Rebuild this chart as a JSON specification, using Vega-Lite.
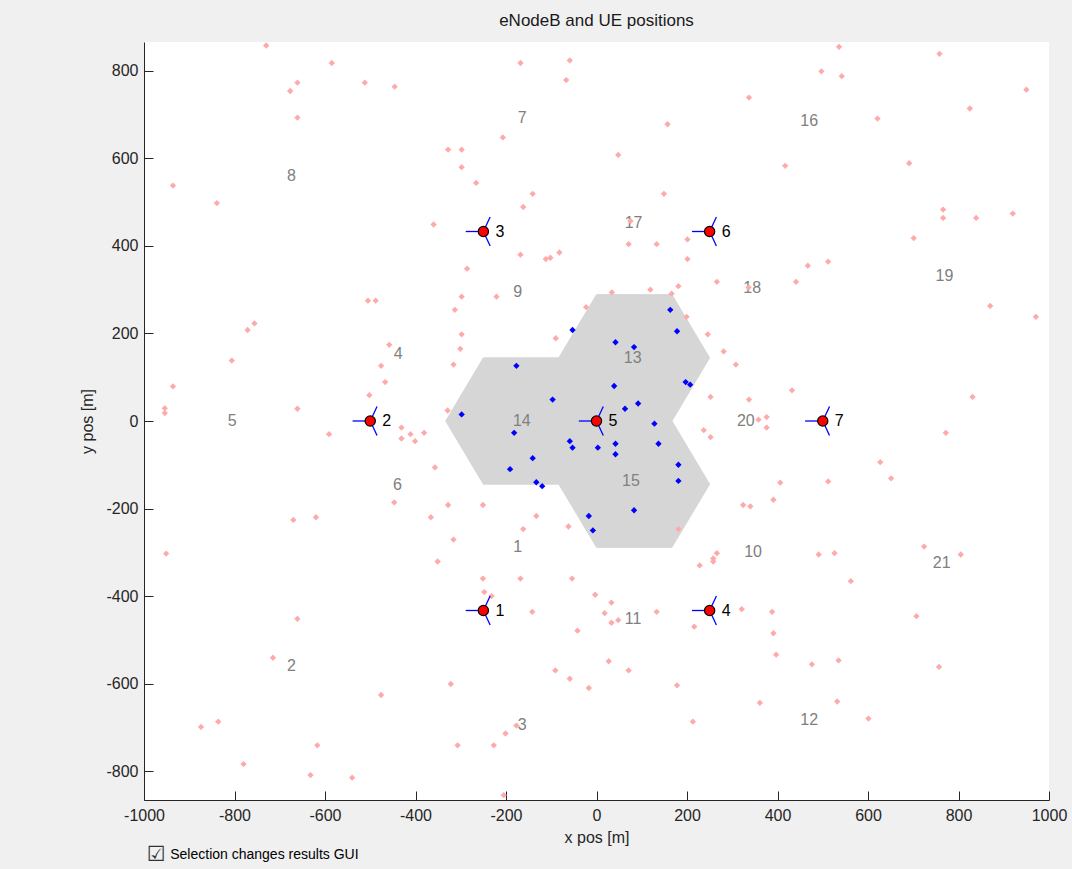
{
  "$schema": "https://vega.github.io/schema/vega-lite/v6.json",
  "width": 905,
  "height": 758,
  "autosize": {"type": "none"},
  "padding": {"left": 144, "top": 42, "right": 23, "bottom": 69},
  "background": "#f0f0f0",
  "view": {"fill": "white", "stroke": null},
  "title": {"text": "eNodeB and UE positions", "fontSize": 17, "fontWeight": "normal", "font": "Liberation Sans", "color": "#1a1a1a", "offset": 12, "anchor": "middle"},
  "datasets": {
    "roi": [
      {"i": 0, "x": 166.7, "y": 288.7},
      {"i": 1, "x": 250, "y": 144.3},
      {"i": 2, "x": 166.7, "y": 0},
      {"i": 3, "x": 250, "y": -144.3},
      {"i": 4, "x": 166.7, "y": -288.7},
      {"i": 5, "x": 0, "y": -288.7},
      {"i": 6, "x": -83.3, "y": -144.3},
      {"i": 7, "x": -250, "y": -144.3},
      {"i": 8, "x": -333.3, "y": 0},
      {"i": 9, "x": -250, "y": 144.3},
      {"i": 10, "x": -83.3, "y": 144.3},
      {"i": 11, "x": 0, "y": 288.7}
    ],
    "cells": [
      {"cell": "1", "x": -174, "y": -289},
      {"cell": "2", "x": -674, "y": -559},
      {"cell": "3", "x": -164, "y": -694},
      {"cell": "4", "x": -438, "y": 154},
      {"cell": "5", "x": -805, "y": 1},
      {"cell": "6", "x": -440, "y": -147},
      {"cell": "7", "x": -164, "y": 693},
      {"cell": "8", "x": -674, "y": 560},
      {"cell": "9", "x": -174, "y": 294},
      {"cell": "10", "x": 346, "y": -299},
      {"cell": "11", "x": 81, "y": -452},
      {"cell": "12", "x": 470, "y": -683},
      {"cell": "13", "x": 80, "y": 144},
      {"cell": "14", "x": -165, "y": 0},
      {"cell": "15", "x": 76, "y": -137},
      {"cell": "16", "x": 470, "y": 685},
      {"cell": "17", "x": 82, "y": 453},
      {"cell": "18", "x": 344, "y": 303},
      {"cell": "19", "x": 769, "y": 331},
      {"cell": "20", "x": 330, "y": 0},
      {"cell": "21", "x": 763, "y": -325}
    ],
    "uesOut": [
      {"x": -730, "y": 858}, {"x": -585, "y": 818}, {"x": -661, "y": 773}, {"x": -677, "y": 754}, {"x": -512, "y": 773},
      {"x": -446, "y": 764}, {"x": -661, "y": 693}, {"x": -936, "y": 538}, {"x": -839, "y": 498}, {"x": -360, "y": 449},
      {"x": -505, "y": 275}, {"x": -488, "y": 275}, {"x": -756, "y": 223}, {"x": -771, "y": 208}, {"x": -458, "y": 174},
      {"x": -806, "y": 138}, {"x": -476, "y": 126}, {"x": -467, "y": 89}, {"x": -936, "y": 79}, {"x": -502, "y": 59},
      {"x": -954, "y": 29}, {"x": -954, "y": 18}, {"x": -661, "y": 28},
      {"x": -168, "y": 818}, {"x": -59, "y": 824}, {"x": -67, "y": 779}, {"x": 157, "y": 678}, {"x": -207, "y": 648},
      {"x": -328, "y": 620}, {"x": -298, "y": 620}, {"x": -298, "y": 580}, {"x": 48, "y": 608}, {"x": -266, "y": 544},
      {"x": -141, "y": 519}, {"x": 149, "y": 519}, {"x": -162, "y": 489}, {"x": 75, "y": 457}, {"x": 71, "y": 404},
      {"x": 133, "y": 404}, {"x": 201, "y": 415}, {"x": 201, "y": 370}, {"x": -168, "y": 380}, {"x": -112, "y": 370},
      {"x": -102, "y": 373}, {"x": -82, "y": 385}, {"x": -286, "y": 348}, {"x": -298, "y": 284}, {"x": -221, "y": 284},
      {"x": -313, "y": 254}, {"x": -298, "y": 198}, {"x": -301, "y": 165}, {"x": -316, "y": 129}, {"x": -329, "y": 24},
      {"x": -90, "y": 189}, {"x": -23, "y": 260}, {"x": 34, "y": 294}, {"x": 119, "y": 300}, {"x": 166, "y": 291},
      {"x": 181, "y": 308}, {"x": 266, "y": 318}, {"x": 199, "y": 238}, {"x": 246, "y": 198}, {"x": 281, "y": 159},
      {"x": 308, "y": 129}, {"x": 252, "y": 55},
      {"x": 536, "y": 855}, {"x": 758, "y": 839}, {"x": 497, "y": 799}, {"x": 542, "y": 788}, {"x": 950, "y": 757},
      {"x": 337, "y": 739}, {"x": 825, "y": 714}, {"x": 621, "y": 691}, {"x": 417, "y": 583}, {"x": 691, "y": 589},
      {"x": 766, "y": 483}, {"x": 766, "y": 464}, {"x": 839, "y": 464}, {"x": 920, "y": 474}, {"x": 701, "y": 418},
      {"x": 512, "y": 364}, {"x": 467, "y": 355}, {"x": 441, "y": 318}, {"x": 870, "y": 263}, {"x": 971, "y": 238},
      {"x": 432, "y": 70}, {"x": 337, "y": 49}, {"x": 831, "y": 55}, {"x": 376, "y": 9}, {"x": 358, "y": 3},
      {"x": 336, "y": 305},
      {"x": -591, "y": -30}, {"x": -431, "y": -15}, {"x": -411, "y": -30}, {"x": -381, "y": -27}, {"x": -431, "y": -40},
      {"x": -401, "y": -46}, {"x": -357, "y": -106}, {"x": -447, "y": -186}, {"x": -366, "y": -220}, {"x": -351, "y": -321},
      {"x": -670, "y": -226}, {"x": -620, "y": -220}, {"x": -951, "y": -303}, {"x": -661, "y": -452}, {"x": -715, "y": -541},
      {"x": -476, "y": -626}, {"x": -874, "y": -699}, {"x": -836, "y": -687}, {"x": -617, "y": -741}, {"x": -780, "y": -784},
      {"x": -632, "y": -809}, {"x": -540, "y": -815},
      {"x": 237, "y": -21}, {"x": 252, "y": -37}, {"x": -328, "y": -192}, {"x": -251, "y": -192}, {"x": -133, "y": -217},
      {"x": -162, "y": -247}, {"x": -62, "y": -241}, {"x": -316, "y": -271}, {"x": 181, "y": -247}, {"x": 324, "y": -192},
      {"x": 266, "y": -302}, {"x": 258, "y": -314}, {"x": 258, "y": -321}, {"x": 228, "y": -330}, {"x": -251, "y": -360},
      {"x": -168, "y": -360}, {"x": -54, "y": -360}, {"x": -248, "y": -391}, {"x": -232, "y": -400}, {"x": -3, "y": -397},
      {"x": 33, "y": -415}, {"x": -142, "y": -436}, {"x": 18, "y": -439}, {"x": 133, "y": -436}, {"x": 33, "y": -461},
      {"x": 48, "y": -455}, {"x": -42, "y": -479}, {"x": 216, "y": -470}, {"x": 321, "y": -430}, {"x": 27, "y": -549},
      {"x": -91, "y": -570}, {"x": 71, "y": -570}, {"x": -59, "y": -589}, {"x": -17, "y": -610}, {"x": 178, "y": -604},
      {"x": -322, "y": -601}, {"x": 213, "y": -687}, {"x": -177, "y": -696}, {"x": -201, "y": -714}, {"x": -227, "y": -741},
      {"x": -307, "y": -741}, {"x": -205, "y": -855},
      {"x": 772, "y": -27}, {"x": 376, "y": -15}, {"x": 627, "y": -94}, {"x": 651, "y": -131}, {"x": 406, "y": -141},
      {"x": 512, "y": -138}, {"x": 391, "y": -180}, {"x": 340, "y": -195}, {"x": 724, "y": -287}, {"x": 805, "y": -305},
      {"x": 491, "y": -305}, {"x": 526, "y": -302}, {"x": 562, "y": -366}, {"x": 388, "y": -436}, {"x": 391, "y": -485},
      {"x": 707, "y": -446}, {"x": 397, "y": -534}, {"x": 476, "y": -556}, {"x": 535, "y": -547}, {"x": 757, "y": -562},
      {"x": 361, "y": -644}, {"x": 532, "y": -641}, {"x": 601, "y": -680}
    ],
    "uesIn": [
      {"x": 163, "y": 254}, {"x": 178, "y": 205}, {"x": -53, "y": 208}, {"x": 42, "y": 180}, {"x": 83, "y": 169},
      {"x": -177, "y": 126}, {"x": 197, "y": 89}, {"x": 207, "y": 83}, {"x": 39, "y": 80}, {"x": -97, "y": 49},
      {"x": 63, "y": 28}, {"x": 92, "y": 40}, {"x": -298, "y": 15},
      {"x": -182, "y": -27}, {"x": -59, "y": -46}, {"x": -53, "y": -61}, {"x": 3, "y": -61}, {"x": 42, "y": -52},
      {"x": 42, "y": -76}, {"x": 128, "y": -6}, {"x": 137, "y": -52}, {"x": -141, "y": -85}, {"x": -191, "y": -110},
      {"x": -133, "y": -140}, {"x": -120, "y": -149}, {"x": 181, "y": -100}, {"x": 181, "y": -137}, {"x": 83, "y": -204},
      {"x": -17, "y": -217}, {"x": -8, "y": -250}
    ],
    "sites": [
      {"site": "1", "x": -250, "y": -433},
      {"site": "2", "x": -500, "y": 0},
      {"site": "3", "x": -250, "y": 433},
      {"site": "4", "x": 250, "y": -433},
      {"site": "5", "x": 0, "y": 0},
      {"site": "6", "x": 250, "y": 433},
      {"site": "7", "x": 500, "y": 0}
    ],
    "antennas": [
      {"x": -250, "y": -433, "x2": -289, "y2": -433}, {"x": -250, "y": -433, "x2": -235, "y2": -400}, {"x": -250, "y": -433, "x2": -235, "y2": -466},
      {"x": -500, "y": 0, "x2": -539, "y2": 0}, {"x": -500, "y": 0, "x2": -485, "y2": 33}, {"x": -500, "y": 0, "x2": -485, "y2": -33},
      {"x": -250, "y": 433, "x2": -289, "y2": 433}, {"x": -250, "y": 433, "x2": -235, "y2": 466}, {"x": -250, "y": 433, "x2": -235, "y2": 400},
      {"x": 250, "y": -433, "x2": 211, "y2": -433}, {"x": 250, "y": -433, "x2": 265, "y2": -400}, {"x": 250, "y": -433, "x2": 265, "y2": -466},
      {"x": 0, "y": 0, "x2": -39, "y2": 0}, {"x": 0, "y": 0, "x2": 15, "y2": 33}, {"x": 0, "y": 0, "x2": 15, "y2": -33},
      {"x": 250, "y": 433, "x2": 211, "y2": 433}, {"x": 250, "y": 433, "x2": 265, "y2": 466}, {"x": 250, "y": 433, "x2": 265, "y2": 400},
      {"x": 500, "y": 0, "x2": 461, "y2": 0}, {"x": 500, "y": 0, "x2": 515, "y2": 33}, {"x": 500, "y": 0, "x2": 515, "y2": -33}
    ],
    "noteBox": [
      {"label": "☑", "x": -994, "y": -991}
    ],
    "noteText": [
      {"label": "Selection changes results GUI", "x": -942, "y": -991}
    ]
  },
  "encoding": {
    "x": {
      "field": "x", "type": "quantitative",
      "scale": {"domain": [-1000, 1000], "nice": false, "zero": false},
      "axis": {"title": "x pos [m]", "values": [-1000, -800, -600, -400, -200, 0, 200, 400, 600, 800, 1000], "labelExpr": "'' + datum.value", "labelPadding": 16, "titlePadding": 6}
    },
    "y": {
      "field": "y", "type": "quantitative",
      "scale": {"domain": [-866, 866], "nice": false, "zero": false},
      "axis": {"title": "y pos [m]", "values": [-800, -600, -400, -200, 0, 200, 400, 600, 800], "labelExpr": "'' + datum.value", "labelPadding": 15, "titlePadding": 10}
    }
  },
  "layer": [
    {
      "data": {"name": "roi"},
      "mark": {"type": "line", "interpolate": "linear-closed", "fill": "#d6d6d6", "stroke": "#d6d6d6", "strokeWidth": 1},
      "encoding": {"order": {"field": "i", "type": "quantitative"}}
    },
    {
      "data": {"name": "cells"},
      "mark": {"type": "text", "fontSize": 16, "font": "Liberation Sans", "color": "#808080", "align": "center", "baseline": "middle"},
      "encoding": {"text": {"field": "cell"}}
    },
    {
      "data": {"name": "uesOut"},
      "mark": {"type": "point", "shape": "diamond", "filled": true, "size": 40, "color": "#ffaaaa", "opacity": 1}
    },
    {
      "data": {"name": "uesIn"},
      "mark": {"type": "point", "shape": "diamond", "filled": true, "size": 40, "color": "#0000ff", "opacity": 1}
    },
    {
      "data": {"name": "antennas"},
      "mark": {"type": "rule", "color": "#0000ff", "strokeWidth": 1.3},
      "encoding": {"x2": {"field": "x2"}, "y2": {"field": "y2"}}
    },
    {
      "data": {"name": "sites"},
      "mark": {"type": "point", "shape": "circle", "filled": true, "size": 105, "fill": "#ff0000", "stroke": "#000000", "strokeWidth": 1.2, "opacity": 1}
    },
    {
      "data": {"name": "sites"},
      "mark": {"type": "text", "fontSize": 16, "font": "Liberation Sans", "color": "#000000", "align": "left", "baseline": "middle", "dx": 12},
      "encoding": {"text": {"field": "site"}}
    },
    {
      "data": {"name": "noteBox"},
      "mark": {"type": "text", "fontSize": 21, "font": "DejaVu Sans", "color": "#333333", "align": "left", "baseline": "middle", "clip": false},
      "encoding": {"text": {"field": "label"}}
    },
    {
      "data": {"name": "noteText"},
      "mark": {"type": "text", "fontSize": 14, "font": "Liberation Sans", "color": "#000000", "align": "left", "baseline": "middle", "clip": false},
      "encoding": {"text": {"field": "label"}}
    }
  ],
  "config": {
    "font": "Liberation Sans",
    "axis": {
      "grid": false,
      "domainColor": "#262626",
      "domainWidth": 1,
      "tickColor": "#262626",
      "tickWidth": 1,
      "tickSize": -9,
      "labelFont": "Liberation Sans",
      "labelFontSize": 16,
      "labelColor": "#262626",
      "labelFlush": false,
      "labelOverlap": false,
      "titleFont": "Liberation Sans",
      "titleFontSize": 16,
      "titleFontWeight": "normal",
      "titleColor": "#262626"
    }
  }
}
